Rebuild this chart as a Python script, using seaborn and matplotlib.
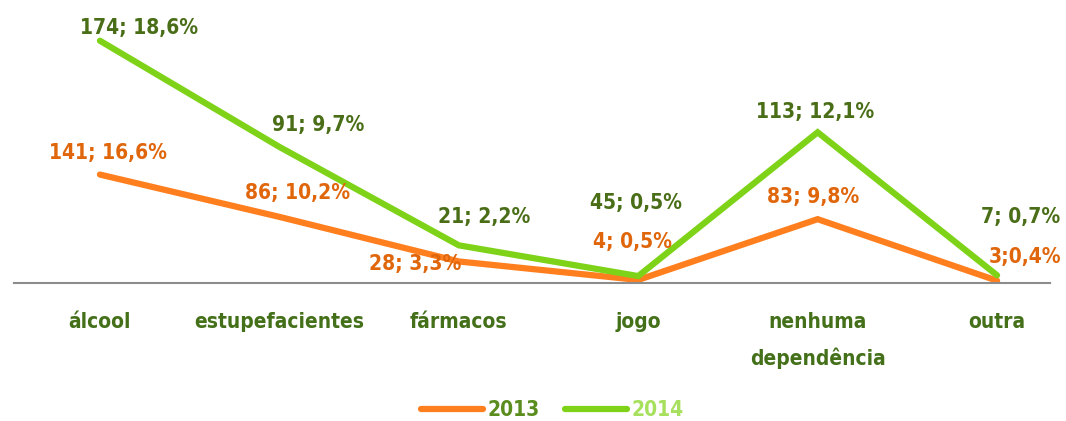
import matplotlib
matplotlib.use("Agg")
import matplotlib.pyplot as plt
import seaborn as sns
import pandas as pd
import numpy as np
from matplotlib.lines import Line2D

categories = ["álcool", "estupefacientes", "fármacos", "jogo", "nenhuma\ndependência", "outra"]
counts_2013 = [141, 86, 28, 4, 83, 3]
counts_2014 = [174, 91, 21, 5, 113, 7]
labels_2013 = ["141; 16,6%", "86; 10,2%", "28; 3,3%", "4; 0,5%", "83; 9,8%", "3;0,4%"]
labels_2014 = ["174; 18,6%", "91; 9,7%", "21; 2,2%", "45; 0,5%", "113; 12,1%", "7; 0,7%"]
years = ["2013", "2014"]

# label offsets in pixels (dx, dy up)
off_2013 = [(8, 22), (18, 24), (-44, -3), (-6, 38), (-5, 22), (28, 24)]
off_2014 = [(39, 13), (39, 22), (25, 28), (-2, 73), (-3, 20), (24, 58)]

sns.set_theme(style="white")
FONT = ["DejaVu Sans"]
plt.rcParams["font.family"] = FONT
plt.rcParams["font.stretch"] = "condensed"

c_line13 = "#FF7F1E"
c_line14 = "#7ED319"
c_txt13 = "#E0660C"
c_txt14 = "#4A6E17"
FS = 15

# stacked line chart (as in the original spreadsheet)
stack13 = np.array(counts_2013, dtype=float)
stack14 = stack13 + np.array(counts_2014, dtype=float)
df = pd.DataFrame({
    "x": list(range(len(categories))) * 2,
    "value": list(stack13) + list(stack14),
    "year": [years[0]] * len(categories) + [years[1]] * len(categories),
})

fig = plt.figure(figsize=(10.66, 4.21), dpi=100)
ax = fig.add_axes([14 / 1066, (421 - 283) / 421, (1050 - 14) / 1066, 273 / 421])
sns.lineplot(data=df, x="x", y="value", hue="year", palette=[c_line13, c_line14],
             linewidth=4.5, ax=ax, legend=False, sort=False)
for ln in ax.lines:
    ln.set_solid_capstyle("round")
    ln.set_solid_joinstyle("miter")

ax.set_xlim(-0.479, 5.295)
ax.set_ylim(0, 355)
for s in ["top", "right", "left"]:
    ax.spines[s].set_visible(False)
ax.spines["bottom"].set_color("#8C8C8C")
ax.spines["bottom"].set_linewidth(1.5)
ax.set_yticks([])
ax.set_xticks(range(len(categories)))
ax.set_xticklabels(categories, fontsize=FS, fontweight="bold", color="#44701A",
                   fontstretch="condensed", linespacing=1.85)
ax.tick_params(axis="x", length=0, pad=21)
ax.set_xlabel("")
ax.set_ylabel("")

for i, (lab, (dx, dy)) in enumerate(zip(labels_2013, off_2013)):
    ax.annotate(lab, xy=(i, stack13[i]), xytext=(dx, dy), textcoords="offset pixels",
                ha="center", va="center", fontsize=FS, fontweight="bold",
                fontstretch="condensed", color=c_txt13)
for i, (lab, (dx, dy)) in enumerate(zip(labels_2014, off_2014)):
    ax.annotate(lab, xy=(i, stack14[i]), xytext=(dx, dy), textcoords="offset pixels",
                ha="center", va="center", fontsize=FS, fontweight="bold",
                fontstretch="condensed", color=c_txt14)

# legend
handles = [Line2D([0], [0], color=c_line13, lw=4.5, solid_capstyle="round"),
           Line2D([0], [0], color=c_line14, lw=4.5, solid_capstyle="round")]
leg = fig.legend(handles, years, loc="center", bbox_to_anchor=(552 / 1066, 1 - 410 / 421),
                 ncol=2, frameon=False, handlelength=3.0, handletextpad=0.2,
                 columnspacing=1.2,
                 prop={"family": "DejaVu Sans", "weight": "bold", "size": 15,
                       "stretch": "condensed"})
leg.get_texts()[0].set_color("#5A8C1E")
leg.get_texts()[1].set_color("#A6E05C")

fig.savefig("out.png", dpi=100)
